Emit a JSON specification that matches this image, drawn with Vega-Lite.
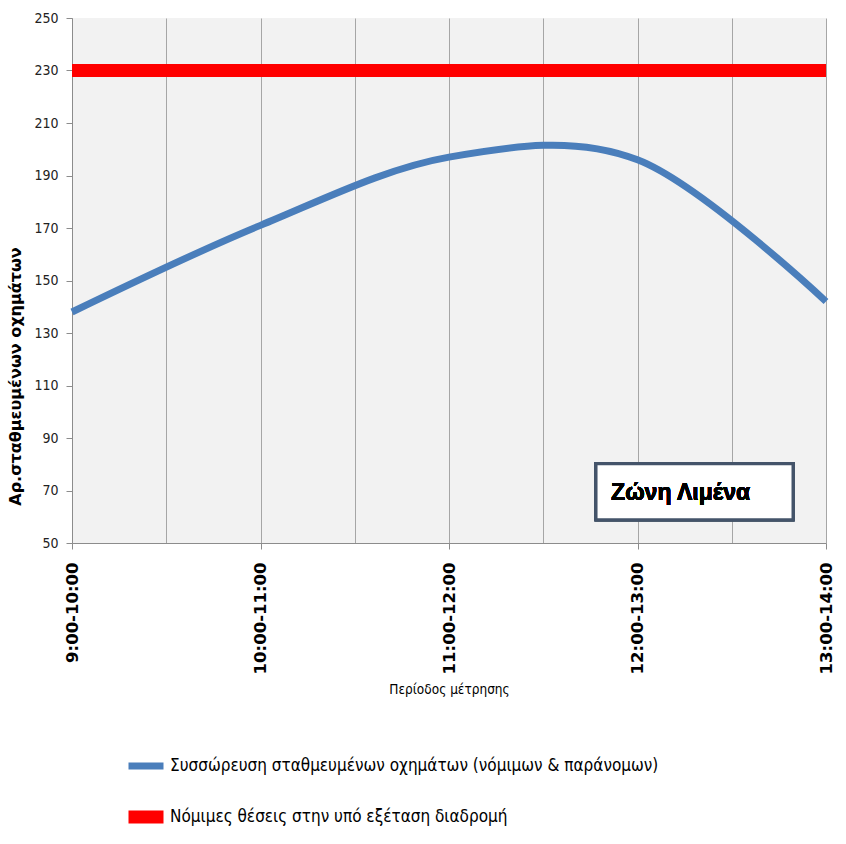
{
  "$schema": "https://vega.github.io/schema/vega-lite/v6.json",
  "width": 754,
  "height": 525,
  "autosize": {"type": "none"},
  "padding": {"left": 72, "top": 18, "right": 20, "bottom": 301},
  "background": "white",
  "config": {"view": {"fill": "#f2f2f2", "stroke": null}},
  "data": {
    "values": [
      {"t": 0, "period": "9:00-10:00", "series": "Συσσώρευση σταθμευμένων οχημάτων (νόμιμων & παράνομων)", "value": 138},
      {"t": 1, "period": "10:00-11:00", "series": "Συσσώρευση σταθμευμένων οχημάτων (νόμιμων & παράνομων)", "value": 171},
      {"t": 2, "period": "11:00-12:00", "series": "Συσσώρευση σταθμευμένων οχημάτων (νόμιμων & παράνομων)", "value": 197},
      {"t": 3, "period": "12:00-13:00", "series": "Συσσώρευση σταθμευμένων οχημάτων (νόμιμων & παράνομων)", "value": 196},
      {"t": 4, "period": "13:00-14:00", "series": "Συσσώρευση σταθμευμένων οχημάτων (νόμιμων & παράνομων)", "value": 142},
      {"t": 0, "period": "9:00-10:00", "series": "Νόμιμες θέσεις στην υπό εξέταση διαδρομή", "value": 230},
      {"t": 1, "period": "10:00-11:00", "series": "Νόμιμες θέσεις στην υπό εξέταση διαδρομή", "value": 230},
      {"t": 2, "period": "11:00-12:00", "series": "Νόμιμες θέσεις στην υπό εξέταση διαδρομή", "value": 230},
      {"t": 3, "period": "12:00-13:00", "series": "Νόμιμες θέσεις στην υπό εξέταση διαδρομή", "value": 230},
      {"t": 4, "period": "13:00-14:00", "series": "Νόμιμες θέσεις στην υπό εξέταση διαδρομή", "value": 230}
    ]
  },
  "layer": [
    {
      "mark": {"type": "line", "interpolate": "cardinal", "strokeCap": "butt"},
      "encoding": {
        "x": {
          "field": "t",
          "type": "quantitative",
          "scale": {"domain": [0, 4], "nice": false, "zero": false},
          "axis": {
            "values": [0, 0.5, 1, 1.5, 2, 2.5, 3, 3.5, 4],
            "labelExpr": "datum.value % 1 == 0 ? ['9:00-10:00','10:00-11:00','11:00-12:00','12:00-13:00','13:00-14:00'][datum.value] : ''",
            "grid": true,
            "gridColor": "#a6a6a6",
            "gridWidth": 1,
            "domainColor": "#8c8c8c",
            "tickColor": "#8c8c8c",
            "tickSize": 6,
            "tickOpacity": {"condition": {"test": "datum.value % 1 != 0", "value": 0}, "value": 1},
            "labelAngle": -90,
            "labelAlign": "right",
            "labelBaseline": "middle",
            "labelPadding": 13,
            "labelFont": "DejaVu Sans",
            "labelFontWeight": "bold",
            "labelFontSize": 16.5,
            "labelColor": "#000000",
            "title": "Περίοδος μέτρησης",
            "titleFont": "Liberation Sans Narrow, DejaVu Sans Condensed, sans-serif",
            "titleFontWeight": "normal",
            "titleFontSize": 13.5,
            "titleColor": "#000000",
            "titleY": 146,
            "titleBaseline": "middle"
          }
        },
        "y": {
          "field": "value",
          "type": "quantitative",
          "scale": {"domain": [50, 250], "nice": false, "zero": false},
          "axis": {
            "values": [50, 70, 90, 110, 130, 150, 170, 190, 210, 230, 250],
            "grid": false,
            "domainColor": "#8c8c8c",
            "tickColor": "#8c8c8c",
            "tickSize": 6,
            "labelPadding": 8,
            "labelFont": "Liberation Sans Narrow, DejaVu Sans Condensed, sans-serif",
            "labelFontSize": 14,
            "labelColor": "#222222",
            "title": "Αρ.σταθμευμένων οχημάτων",
            "titleFont": "DejaVu Sans",
            "titleFontWeight": "bold",
            "titleFontSize": 16,
            "titleColor": "#000000",
            "titleAngle": -90,
            "titleX": -57,
            "titleY": 358,
            "titleAlign": "center",
            "titleBaseline": "middle"
          }
        },
        "color": {
          "field": "series",
          "type": "nominal",
          "scale": {
            "domain": ["Συσσώρευση σταθμευμένων οχημάτων (νόμιμων & παράνομων)", "Νόμιμες θέσεις στην υπό εξέταση διαδρομή"],
            "range": ["#4a7ebb", "#ff0000"]
          },
          "legend": {
            "orient": "none",
            "legendX": 50,
            "legendY": 727,
            "direction": "vertical",
            "title": null,
            "symbolType": "stroke",
            "symbolSize": 1225,
            "symbolStrokeWidth": 8,
            "labelFont": "Liberation Sans Narrow, DejaVu Sans Condensed, sans-serif",
            "labelFontSize": 17,
            "labelColor": "#000000",
            "labelOffset": 0,
            "labelLimit": 700,
            "rowPadding": 11
          }
        },
        "strokeWidth": {
          "field": "series",
          "type": "nominal",
          "scale": {
            "domain": ["Συσσώρευση σταθμευμένων οχημάτων (νόμιμων & παράνομων)", "Νόμιμες θέσεις στην υπό εξέταση διαδρομή"],
            "range": [7, 13]
          },
          "legend": null
        }
      }
    },
    {
      "mark": {"type": "rect", "fill": "white", "stroke": "#44546a", "strokeWidth": 3},
      "encoding": {
        "x": {"datum": 2.78},
        "x2": {"datum": 3.825},
        "y": {"datum": 80.2},
        "y2": {"datum": 58.9}
      }
    },
    {
      "mark": {
        "type": "text",
        "text": "Ζώνη Λιμένα",
        "align": "left",
        "baseline": "middle",
        "font": "Liberation Sans, Arial, sans-serif",
        "fontWeight": "bold",
        "fontSize": 23,
        "color": "#000000"
      },
      "encoding": {
        "x": {"datum": 2.86},
        "y": {"datum": 69}
      }
    }
  ]
}
